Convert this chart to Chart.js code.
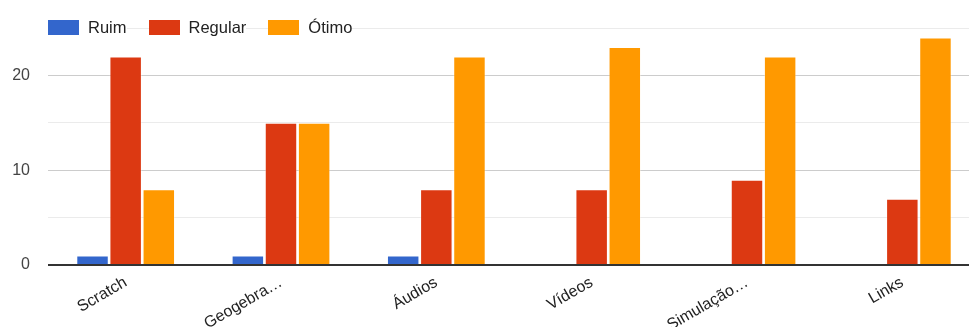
<!DOCTYPE html>
<html>
<head>
<meta charset="utf-8">
<script src="https://cdn.jsdelivr.net/npm/chart.js@4"></script>
<style>
  html, body { margin: 0; padding: 0; background: #fff; overflow: hidden; }
  #wrap { position: relative; width: 969px; height: 327px; overflow: hidden; font-family: Arial, "Liberation Sans", sans-serif; }
  #legend { position: absolute; left: 48px; top: 18px; display: flex; font-size: 16.5px; color: #222; }
  .item { display: flex; align-items: center; background: #fff; margin-right: 22px; }
  .box { width: 31px; height: 15px; margin-right: 9px; }
</style>
</head>
<body>
<div id="wrap">
  <!-- the original plot runs a bit past the right edge, so the canvas is wider than the view -->
  <canvas id="chart" width="980" height="327"></canvas>
  <div id="legend"></div>
</div>
<script>
const categories = ['Scratch', 'Geogebra…', 'Áudios', 'Vídeos', 'Simulação…', 'Links'];
const seriesNames = ['Ruim', 'Regular', 'Ótimo'];
const ruim = [1, 1, 1, 0, 0, 0];
const regular = [22, 15, 8, 8, 9, 7];
const otimo = [8, 15, 22, 23, 22, 24];
const colors = ['#3366cc', '#dc3912', '#ff9900'];

const values = [ruim, regular, otimo];

// legend in html so it can sit over the top gridline like the original
const legend = document.getElementById('legend');
seriesNames.forEach((name, i) => {
  const item = document.createElement('div');
  item.className = 'item';
  item.innerHTML = `<span class="box" style="background:${colors[i]}"></span><span>${name}</span>`;
  legend.appendChild(item);
});

const ctx = document.getElementById('chart').getContext('2d');
new Chart(ctx, {
  type: 'bar',
  data: {
    labels: categories,
    datasets: seriesNames.map((name, i) => ({
      label: name,
      data: values[i],
      backgroundColor: colors[i],
      borderColor: 'rgba(255,255,255,0.35)',
      borderWidth: 1,
      categoryPercentage: 0.64,
      barPercentage: 0.98
    }))
  },
  options: {
    responsive: false,
    animation: false,
    layout: { padding: { top: 28, right: 0, left: 0, bottom: 0 } },
    plugins: {
      legend: { display: false },
      tooltip: { enabled: false }
    },
    scales: {
      y: {
        min: 0,
        max: 25,
        border: { display: false },
        grid: {
          color: ctx => ctx.tick.value === 0 ? '#333' : (ctx.tick.value % 10 === 0 ? '#cccccc' : '#ebebeb'),
          lineWidth: ctx => ctx.tick.value === 0 ? 2 : 1,
          drawTicks: false
        },
        ticks: {
          stepSize: 5,
          padding: 18,
          color: '#444',
          font: { family: 'Arial, "Liberation Sans", sans-serif', size: 16 },
          callback: v => v % 10 === 0 ? v : ''
        },
        afterFit: scale => { scale.width = 48; }
      },
      x: {
        border: { display: false },
        grid: { display: false },
        ticks: {
          maxRotation: 30,
          minRotation: 30,
          padding: 0,
          color: '#222',
          font: { family: 'Arial, "Liberation Sans", sans-serif', size: 16 }
        },
        afterFit: scale => { scale.height = 62; }
      }
    }
  }
});
</script>
</body>
</html>
